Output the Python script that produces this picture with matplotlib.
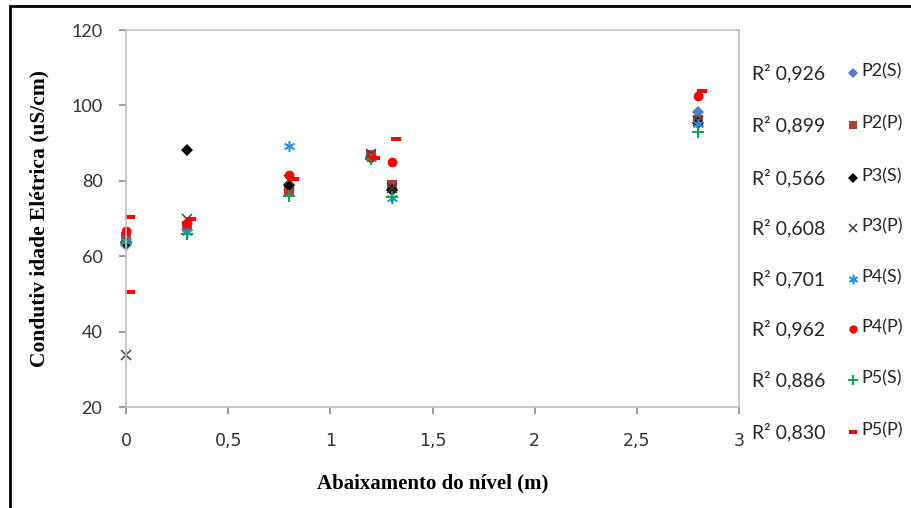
import matplotlib
matplotlib.use("Agg")
import matplotlib.pyplot as plt
from matplotlib.lines import Line2D
from matplotlib.patches import Rectangle

# depth drop (m) for each sampling step
x_vals = [0, 0.3, 0.8, 1.2, 1.3, 2.8]
x_p5p = [0.02, 0.02, 0.32, 0.82, 1.22, 1.32, 2.82]

series_names = ["P2(S)", "P2(P)", "P3(S)", "P3(P)", "P4(S)", "P4(P)", "P5(S)", "P5(P)"]
r2_labels = ["0,926", "0,899", "0,566", "0,608", "0,701", "0,962", "0,886", "0,830"]

p2s = [63.0, 67.0, 77.5, 86.5, 77.5, 98.3]
p2p = [65.0, 68.0, 77.5, 86.8, 78.8, 96.0]
p3s = [63.5, 88.3, 78.8, 86.0, 77.5, 95.2]
p3p = [33.7, 70.0, 80.3, 87.0, 78.0, 95.8]
p4s = [64.0, 66.5, 89.2, 86.0, 75.4, 95.0]
p4p = [66.8, 68.8, 81.5, 86.2, 85.0, 102.5]
p5s = [63.8, 66.0, 76.0, 85.8, 75.7, 93.0]
p5p = [70.4, 50.5, 70.0, 80.6, 86.0, 91.0, 103.9]

dash = [(-1, -0.42), (1, -0.42), (1, 0.42), (-1, 0.42), (-1, -0.42)]

styles = [
    dict(marker="D", color="#4F81BD", ms=6, mew=0),
    dict(marker="s", color="#A9403C", ms=7.5, mew=0),
    dict(marker="D", color="black", ms=6, mew=0),
    dict(marker="x", color="#404040", ms=7, mew=1.1),
    dict(marker=(6, 2, 0), color="#2E8FE0", ms=8, mew=1.1),
    dict(marker="o", color="#FF0000", ms=7, mew=0),
    dict(marker="+", color="#00A850", ms=8, mew=1.4),
    dict(marker=dash, color="#FF0000", ms=7.5, mew=0),
]

data = [(x_vals, p2s), (x_vals, p2p), (x_vals, p3s), (x_vals, p3p),
        (x_vals, p4s), (x_vals, p4p), (x_vals, p5s), (x_p5p, p5p)]

fig = plt.figure(figsize=(9.11, 5.08), dpi=100)
ax = fig.add_axes([126 / 911, 1 - 407 / 508, (739 - 126) / 911, (407 - 30) / 508])

for (xs, ys), st in zip(data, styles):
    ax.plot(xs, ys, linestyle="none", marker=st["marker"], color=st["color"],
            markersize=st["ms"], markeredgewidth=st["mew"], clip_on=False)

ax.set_xlim(0, 3)
ax.set_ylim(20, 120)
ax.set_xticks([0, 0.5, 1, 1.5, 2, 2.5, 3])
ax.set_xticklabels(["0", "0,5", "1", "1,5", "2", "2,5", "3"],
                   family=["Liberation Sans Narrow", "DejaVu Sans"], fontsize=12.5, color="#333333")
ax.set_yticks([20, 40, 60, 80, 100, 120])
ax.set_yticklabels(["20", "40", "60", "80", "100", "120"],
                   family=["Lato", "DejaVu Sans"], fontsize=13, color="#333333")
for s in ax.spines.values():
    s.set_color("#BFBFBF")
    s.set_linewidth(1.2)
ax.tick_params(axis="both", direction="out", length=5, width=1.2, color="#8C8C8C")
ax.tick_params(axis="x", pad=13)
ax.tick_params(axis="y", pad=12)

ax.set_xlabel("Abaixamento do nível (m)", family="Liberation Serif", fontweight="bold",
              fontsize=15, labelpad=17)
ax.set_ylabel("Condutiv idade Elétrica (uS/cm)", family="Liberation Serif", fontweight="bold",
              fontsize=15.5, labelpad=16)

# legend column with R² values on the right
row_y = [73, 125, 178, 228, 279, 329, 380, 432]
for name, r2, st, yp in zip(series_names, r2_labels, styles, row_y):
    yf = 1 - yp / 508
    fig.text(825 / 911, yf, "R² " + r2, ha="right", va="center",
             family=["Lato", "DejaVu Sans"], fontsize=14, color="#262626")
    fig.add_artist(Line2D([853 / 911], [yf], transform=fig.transFigure, linestyle="none",
                          marker=st["marker"], color=st["color"], markersize=st["ms"] * 0.85,
                          markeredgewidth=st["mew"]))
    fig.text(861 / 911, yf + 0.004, name, ha="left", va="center",
             family=["Lato", "DejaVu Sans"], fontsize=13, color="#262626")

fig.add_artist(Rectangle((10 / 911, -0.1), 1.2, 1.1 - 6 / 508, transform=fig.transFigure,
                         fill=False, edgecolor="black", linewidth=2))

fig.savefig("out.png", dpi=100)
